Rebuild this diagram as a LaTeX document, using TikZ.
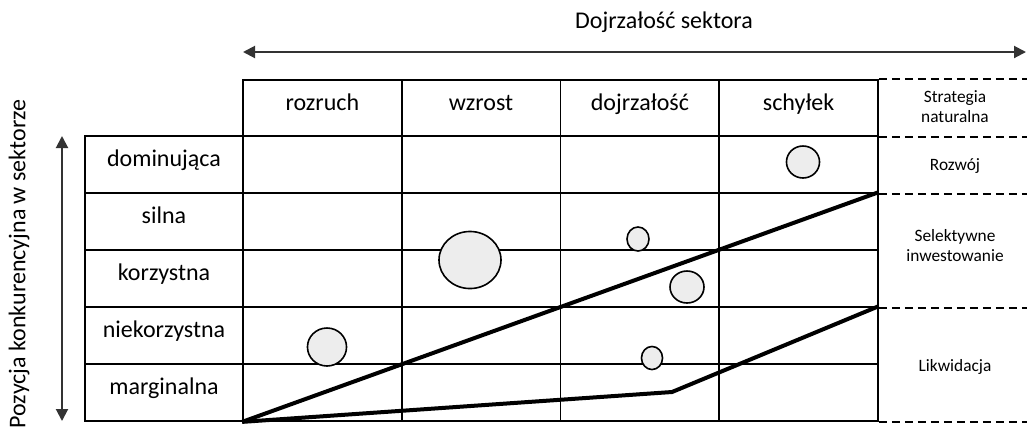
\documentclass[tikz,border=0pt]{standalone}
\usepackage{fontspec}
\setmainfont{Carlito}
\usetikzlibrary{shapes.geometric,arrows.meta}

\begin{document}
\begin{tikzpicture}[x=0.75pt,y=-0.75pt]
  \def\f{0.75}
  \def\cw{158.75}

\tikzstyle{cell}=[draw,line width=1.3pt,minimum width=\cw*\f*1pt,minimum height=57*\f*1pt,inner sep=0pt,text height=0.65em,text depth=0.35em,font=\fontsize{18}{21}\selectfont]
\tikzstyle{head}=[cell,minimum height=56*\f*1pt]
\tikzstyle{dot}=[ellipse,draw,line width=1.2pt,fill=black!7,inner sep=0pt]
\tikzstyle{zone}=[line width=3pt,line join=miter]
\tikzstyle{split}=[dash pattern=on 6pt off 3.75pt,line width=1.2pt]
\tikzstyle{strat}=[align=center,font=\fontsize{13}{15}\selectfont]
\tikzstyle{axis}=[line width=1.5pt,black!80,{Triangle[width=9pt,length=9pt]}-{Triangle[width=9pt,length=9pt]}]

\useasboundingbox (0,0) rectangle (1027,430);

% naglowki kolumn
\node[head] (H1) at (322.4,108) {rozruch};
\node[head] (H2) at (481.1,108) {wzrost};
\node[head] (H3) at (639.9,108) {dojrzałość};
\node[head] (H4) at (798.6,108) {schyłek};

% pozycje w sektorze
\node[cell,minimum width=158*\f*1pt] (L1) at (164,164.5) {dominująca};
\node[cell,minimum width=158*\f*1pt] (L2) at (164,221.5) {silna};
\node[cell,minimum width=158*\f*1pt] (L3) at (164,278.5) {korzystna};
\node[cell,minimum width=158*\f*1pt] (L4) at (164,335.5) {niekorzystna};
\node[cell,minimum width=158*\f*1pt] (L5) at (164,392.5) {marginalna};

% pola macierzy
\node[cell] (C11) at (322.4,164.5) {};
\node[cell] (C12) at (481.1,164.5) {};
\node[cell] (C13) at (639.9,164.5) {};
\node[cell] (C14) at (798.6,164.5) {};
\node[cell] (C21) at (322.4,221.5) {};
\node[cell] (C22) at (481.1,221.5) {};
\node[cell] (C23) at (639.9,221.5) {};
\node[cell] (C24) at (798.6,221.5) {};
\node[cell] (C31) at (322.4,278.5) {};
\node[cell] (C32) at (481.1,278.5) {};
\node[cell] (C33) at (639.9,278.5) {};
\node[cell] (C34) at (798.6,278.5) {};
\node[cell] (C41) at (322.4,335.5) {};
\node[cell] (C42) at (481.1,335.5) {};
\node[cell] (C43) at (639.9,335.5) {};
\node[cell] (C44) at (798.6,335.5) {};
\node[cell] (C51) at (322.4,392.5) {};
\node[cell] (C52) at (481.1,392.5) {};
\node[cell] (C53) at (639.9,392.5) {};
\node[cell] (C54) at (798.6,392.5) {};

% kolumna strategii
\draw[split] (H4.north east) -- ++(149,0);
\draw[split] (H4.south east) -- ++(149,0);
\draw[split] (C14.south east) -- ++(149,0);
\draw[split] (C34.south east) -- ++(149,0);
\draw[split] (C54.south east) -- ++(149,0);
\draw[split,line width=0.8pt] (H4.north east) -- (C54.south east);
\node[strat] (S1) at (955,107) {Strategia\\naturalna};
\node[strat] (S2) at (955,166) {Rozwój};
\node[strat] (S3) at (955,246) {Selektywne\\inwestowanie};
\node[strat] (S4) at (955,367) {Likwidacja};

% firmy
\node[dot,minimum width=24.8pt,minimum height=24pt] (F1) at (803,162) {};
\node[dot,minimum width=46.5pt,minimum height=42.8pt] (F2) at (470,260) {};
\node[dot,minimum width=16.5pt,minimum height=18pt] (F3) at (638,239) {};
\node[dot,minimum width=25.5pt,minimum height=24pt] (F4) at (687,287) {};
\node[dot,minimum width=29.3pt,minimum height=28.5pt] (F5) at (327,347) {};
\node[dot,minimum width=15.8pt,minimum height=17.3pt] (F6) at (652,358) {};

% granice stref
\coordinate (K) at (672,392);
\draw[zone] (C51.south west) -- (C24.north east);
\draw[zone] (C51.south west) -- (K) -- (C44.north east);

% osie
\coordinate (X1) at (243,52);
\coordinate (X2) at (1026,52);
\draw[axis] (X1) -- (X2);
\node[font=\fontsize{18}{21}\selectfont] (T1) at (664,22) {Dojrzałość sektora};
\coordinate (Y1) at (62,136);
\coordinate (Y2) at (62,421);
\draw[axis] (Y1) -- (Y2);
\node[rotate=90,font=\fontsize{18}{21}\selectfont] (T2) at (19,264) {Pozycja konkurencyjna w sektorze};
\end{tikzpicture}
\end{document}
